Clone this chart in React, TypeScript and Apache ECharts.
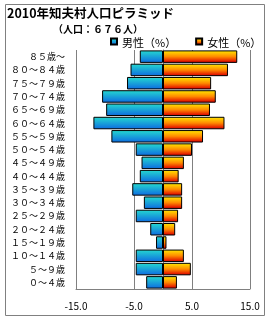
import React, { useEffect, useRef } from "react";
import * as echarts from "echarts";

// Bottom-to-top order (ECharts category y axis starts at the bottom)
const ageGroups = [
  "０～４歳", "５～９歳", "１０～１４歳", "１５～１９歳", "２０～２４歳", "２５～２９歳",
  "３０～３４歳", "３５～３９歳", "４０～４４歳", "４５～４９歳", "５０～５４歳", "５５～５９歳",
  "６０～６４歳", "６５～６９歳", "７０～７４歳", "７５～７９歳", "８０～８４歳", "８５歳～",
];
const malePct = [2.9, 4.7, 4.7, 1.2, 2.2, 4.7, 3.3, 5.3, 4.0, 3.7, 4.7, 8.9, 12.0, 9.8, 10.5, 6.2, 5.6, 4.0];
const femalePct = [2.4, 4.8, 3.6, 0.6, 2.1, 2.6, 3.3, 3.3, 2.7, 3.6, 5.0, 6.9, 10.6, 8.1, 9.1, 8.3, 11.2, 12.8];
const xTicks = { min: -15, max: 15, interval: 10 };
const titleText = "2010年知夫村人口ピラミッド";
const subtitleText = "（人口：６７６人）";
const seriesNames = ["男性（%）", "女性（%）"];

const FONT = "'Noto Sans CJK JP', 'Noto Sans', sans-serif";

export default function App() {
  const ref = useRef<HTMLDivElement>(null);
  useEffect(() => {
    if (!ref.current) return;
    const chart = echarts.init(ref.current, undefined, { renderer: "svg" });
    const maleGrad = new echarts.graphic.LinearGradient(0, 0, 0, 1, [
      { offset: 0, color: "#24d6d0" },
      { offset: 1, color: "#0e6ee0" },
    ]);
    const femaleGrad = new echarts.graphic.LinearGradient(0, 0, 0, 1, [
      { offset: 0, color: "#ffe400" },
      { offset: 0.5, color: "#ff8a00" },
      { offset: 1, color: "#dd0000" },
    ]);
    chart.setOption({
      animation: false,
      textStyle: { fontFamily: FONT },
      title: [
        {
          text: titleText,
          left: 7,
          top: 5,
          padding: 0,
          textStyle: { fontSize: 12.5, lineHeight: 14, fontWeight: "bold", color: "#000", fontFamily: FONT },
        },
        {
          text: subtitleText,
          left: 53,
          top: 23,
          padding: 0,
          textStyle: { fontSize: 10, lineHeight: 11, fontWeight: "bold", color: "#000", fontFamily: FONT },
        },
      ],
      legend: {
        left: 110,
        top: 36,
        padding: 0,
        itemWidth: 6,
        itemHeight: 6,
        itemGap: 19,
        icon: "rect",
        textStyle: { fontSize: 11, color: "#000", fontFamily: FONT },
        data: seriesNames,
      },
      grid: { left: 76, right: 20, top: 50, bottom: 31, containLabel: false },
      xAxis: {
        type: "value",
        min: xTicks.min,
        max: xTicks.max,
        interval: xTicks.interval,
        axisLine: { show: true, lineStyle: { color: "#808080", width: 1 } },
        axisTick: { show: false },
        splitLine: { show: true, lineStyle: { color: "#808080", width: 1 } },
        axisLabel: {
          margin: 11,
          fontSize: 10,
          color: "#000",
          fontFamily: FONT,
          formatter: (v: number) => v.toFixed(1),
        },
      },
      yAxis: {
        type: "category",
        data: ageGroups,
        axisLine: { show: true, onZero: true, lineStyle: { color: "#808080", width: 1 } },
        axisTick: { show: false },
        axisLabel: {
          margin: 11,
          fontSize: 9,
          color: "#000",
          fontFamily: FONT,
        },
        position: "left",
      },
      series: [
        {
          name: seriesNames[0],
          type: "bar",
          stack: "pop",
          barCategoryGap: "6%",
          data: malePct.map((v) => -v),
          itemStyle: { color: maleGrad, borderColor: "#000", borderWidth: 1 },
        },
        {
          name: seriesNames[1],
          type: "bar",
          stack: "pop",
          barCategoryGap: "6%",
          data: femalePct,
          itemStyle: { color: femaleGrad, borderColor: "#000", borderWidth: 1 },
        },
      ],
      graphic: [
        {
          type: "rect",
          shape: { x: 5.5, y: 4.5, width: 259, height: 311 },
          style: { fill: "none", stroke: "#808080", lineWidth: 1 },
          silent: true,
        },
      ],
    });
    return () => chart.dispose();
  }, []);
  return (
    <div
      ref={ref}
      style={{ position: "fixed", left: 0, top: 0, width: 270, height: 320 }}
    />
  );
}
